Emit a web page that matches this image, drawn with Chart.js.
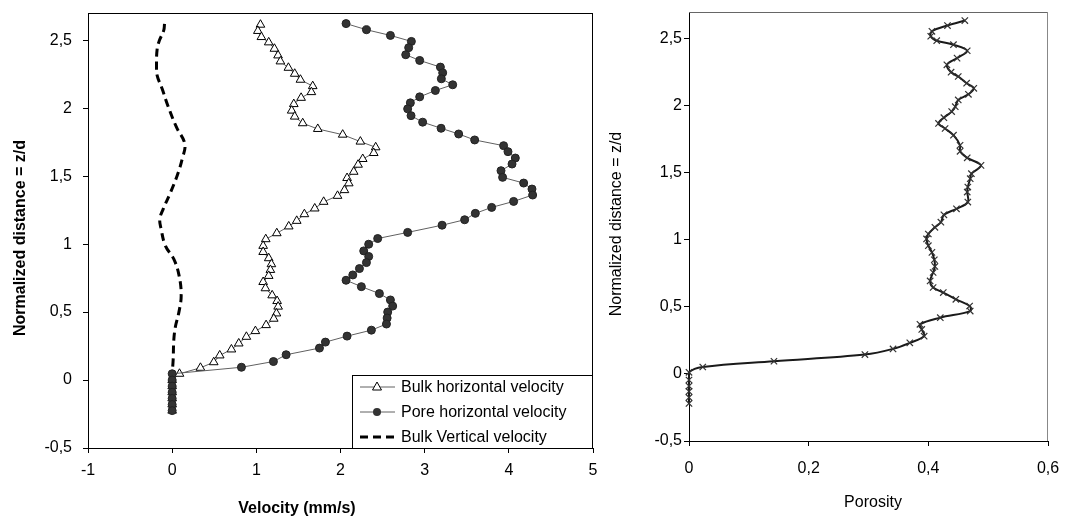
<!DOCTYPE html>
<html>
<head>
<title>Velocity and porosity profiles</title>
<script src="https://cdn.jsdelivr.net/npm/chart.js"></script>
<style>
  body { margin: 0; background: #fff; }
  #left { position: absolute; left: 0; top: 0; width: 600px; height: 521px; }
  #right { position: absolute; left: 600px; top: 0; width: 465px; height: 521px; }
</style>
</head>
<body>
<div id="left"><canvas id="velChart"></canvas></div>
<div id="right"><canvas id="porChart"></canvas></div>
<script>
// values (z/d from top to bottom)
var bulkZ = [2.614,2.568,2.523,2.484,2.437,2.388,2.344,2.297,2.253,2.209,2.162,2.118,2.076,2.03,1.982,1.938,1.889,1.847,1.805,1.754,1.712,1.67,1.626,1.584,1.532,1.486,1.447,1.397,1.355,1.311,1.262,1.22,1.171,1.13,1.08,1.036,0.987,0.942,0.896,0.852,0.81,0.766,0.721,0.675,0.623,0.581,0.54,0.49,0.451,0.404,0.36,0.318,0.269,0.225,0.181,0.131,0.09,0.046,0,-0.045,-0.09,-0.135,-0.18,-0.225];
var bulkV = [1.049,1.018,1.06,1.147,1.215,1.258,1.286,1.381,1.456,1.524,1.67,1.654,1.532,1.445,1.42,1.456,1.551,1.73,2.026,2.236,2.418,2.395,2.264,2.209,2.157,2.078,2.098,2.047,1.965,1.8,1.694,1.571,1.48,1.385,1.243,1.112,1.081,1.081,1.147,1.179,1.167,1.147,1.081,1.108,1.188,1.247,1.259,1.239,1.207,1.116,0.989,0.882,0.791,0.704,0.565,0.494,0.336,0.087,0,0,0,0,0,0];

var poreZ = [2.622,2.577,2.535,2.491,2.445,2.393,2.351,2.302,2.26,2.216,2.172,2.13,2.083,2.039,1.995,1.945,1.897,1.852,1.81,1.766,1.724,1.68,1.633,1.589,1.54,1.491,1.449,1.405,1.361,1.314,1.27,1.226,1.179,1.139,1.086,1.041,0.999,0.95,0.909,0.864,0.82,0.773,0.734,0.687,0.636,0.589,0.544,0.5,0.456,0.412,0.367,0.323,0.279,0.235,0.186,0.136,0.094,0.046,0,-0.045,-0.09,-0.135,-0.18,-0.225];
var poreV = [2.066,2.308,2.593,2.842,2.81,2.775,2.941,3.187,3.214,3.198,3.333,3.127,2.941,2.83,2.798,2.838,2.976,3.195,3.404,3.594,3.938,3.99,4.077,4.038,3.907,3.926,4.176,4.275,4.283,4.057,3.796,3.602,3.475,3.207,2.798,2.442,2.335,2.276,2.335,2.308,2.225,2.146,2.066,2.248,2.462,2.593,2.62,2.561,2.554,2.546,2.367,2.078,1.821,1.75,1.354,1.203,0.823,0,0,0,0,0,0,0];

var vertZ = [2.62,2.572,2.499,2.437,2.314,2.24,2.142,2.019,1.86,1.737,1.626,1.503,1.38,1.257,1.184,1.11,0.987,0.889,0.766,0.618,0.496,0.397,0.299,0.151,0.028,-0.225];
var vertV = [-0.091,-0.1,-0.151,-0.178,-0.186,-0.178,-0.119,-0.052,0.051,0.15,0.119,0.059,-0.02,-0.107,-0.147,-0.131,-0.08,0.02,0.083,0.107,0.079,0.04,0.02,0.012,0,0];

var porZ = [2.636,2.599,2.556,2.519,2.486,2.456,2.411,2.356,2.306,2.251,2.219,2.169,2.131,2.086,2.044,1.994,1.957,1.912,1.869,1.831,1.781,1.706,1.661,1.612,1.556,1.494,1.457,1.394,1.357,1.282,1.232,1.187,1.132,1.094,1.044,1.007,0.957,0.907,0.852,0.802,0.757,0.694,0.645,0.607,0.557,0.507,0.469,0.42,0.37,0.332,0.282,0.232,0.187,0.145,0.095,0.052,0.012,-0.045,-0.09,-0.13,-0.175,-0.22];
var porP = [0.461,0.432,0.406,0.404,0.414,0.442,0.465,0.448,0.431,0.438,0.45,0.464,0.476,0.467,0.45,0.445,0.439,0.426,0.417,0.428,0.442,0.453,0.453,0.465,0.488,0.472,0.47,0.466,0.465,0.466,0.447,0.426,0.421,0.411,0.4,0.397,0.4,0.406,0.41,0.411,0.408,0.403,0.408,0.425,0.446,0.469,0.47,0.42,0.386,0.389,0.393,0.369,0.341,0.294,0.142,0.023,0,0,0,0,0,0];

var velTicks = { min: -1, max: 5, step: 1 };
var zTicks = { min: -0.5, max: 2.7, step: 0.5 };
var porTicks = { min: 0, max: 0.6, step: 0.2 };

Chart.defaults.font.family = "'Liberation Sans', Arial, sans-serif";
Chart.defaults.color = '#000';

function pts(xs, ys) {
    return xs.map(function (x, i) { return { x: x, y: ys[i] }; });
}
function fmt(v) {
    return (Math.round(v * 10) / 10).toString().replace('.', ',');
}

// frame on top/right, axis titles
var frame = {
    id: 'frame',
    afterDraw: function (chart, args, o) {
        var ctx = chart.ctx, a = chart.chartArea;
        ctx.save();
        ctx.lineWidth = 1;
        ctx.strokeStyle = o.top;
        ctx.beginPath();
        ctx.moveTo(a.left, Math.round(a.top) + 0.5);
        ctx.lineTo(a.right, Math.round(a.top) + 0.5);
        ctx.stroke();
        ctx.strokeStyle = o.right;
        ctx.beginPath();
        ctx.moveTo(Math.round(a.right) - 0.5, a.top);
        ctx.lineTo(Math.round(a.right) - 0.5, a.bottom);
        ctx.stroke();
        ctx.fillStyle = '#000';
        ctx.textAlign = 'center';
        ctx.textBaseline = 'middle';
        (o.titles || []).forEach(function (t) {
            ctx.save();
            ctx.font = (t.bold ? 'bold ' : '') + '16px ' + Chart.defaults.font.family;
            ctx.translate(t.x, t.y);
            if (t.rot) ctx.rotate(-Math.PI / 2);
            ctx.fillText(t.text, 0, 0);
            ctx.restore();
        });
        ctx.restore();
    }
};

// legend box inside the plot, bottom right
var boxLegend = {
    id: 'boxLegend',
    afterDraw: function (chart, args, o) {
        if (!o.show) return;
        var ctx = chart.ctx;
        ctx.save();
        ctx.fillStyle = '#fff';
        ctx.fillRect(o.left, o.top, o.right - o.left, o.bottom - o.top);
        ctx.strokeStyle = '#000';
        ctx.lineWidth = 1;
        ctx.strokeRect(o.left + 0.5, o.top + 0.5, o.right - o.left - 1, o.bottom - o.top - 1);
        chart.data.datasets.forEach(function (ds, i) {
            var y = o.rowY[i];
            ctx.save();
            ctx.strokeStyle = ds.borderColor;
            ctx.lineWidth = ds.borderWidth;
            ctx.setLineDash(ds.borderDash || []);
            ctx.beginPath();
            ctx.moveTo(o.left + 8, y);
            ctx.lineTo(o.left + 43, y);
            ctx.stroke();
            ctx.setLineDash([]);
            var cx = o.left + 25;
            if (ds.pointStyle === 'triangle') {
                ctx.fillStyle = '#fff';
                ctx.strokeStyle = '#000';
                ctx.lineWidth = 1;
                ctx.beginPath();
                ctx.moveTo(cx, y - 5);
                ctx.lineTo(cx + 4.5, y + 3);
                ctx.lineTo(cx - 4.5, y + 3);
                ctx.closePath();
                ctx.fill();
                ctx.stroke();
            } else if (ds.pointStyle === 'circle' && ds.pointRadius > 0) {
                ctx.fillStyle = ds.pointBackgroundColor;
                ctx.beginPath();
                ctx.arc(cx, y, 4, 0, Math.PI * 2);
                ctx.fill();
            }
            ctx.restore();
            ctx.fillStyle = '#000';
            ctx.font = '16px ' + Chart.defaults.font.family;
            ctx.textAlign = 'left';
            ctx.textBaseline = 'middle';
            ctx.fillText(ds.label, o.left + 49, y + 1);
        });
        ctx.restore();
    }
};

function axis(t, opts) {
    return {
        type: 'linear',
        min: t.min,
        max: t.max,
        ticks: {
            stepSize: t.step,
            includeBounds: false,
            padding: opts.pad,
            callback: fmt,
            color: '#000',
            font: { size: 16 },
            maxRotation: 0,
            autoSkip: false
        },
        grid: { drawOnChartArea: false, tickLength: 5, color: '#000' },
        border: { color: '#000', width: 1 },
        afterFit: function (s) {
            opts.fit(s);
            // keep the plot box where the layout padding puts it
            s.paddingTop = 0; s.paddingBottom = 0;
            s.paddingLeft = 0; s.paddingRight = 0;
        }
    };
}

new Chart(document.getElementById('velChart'), {
    type: 'scatter',
    data: {
        datasets: [{
            label: 'Bulk horizontal velocity',
            data: pts(bulkV, bulkZ),
            order: 1,
            showLine: true,
            borderColor: '#606060',
            borderWidth: 1,
            pointStyle: 'triangle',
            pointRadius: 5,
            pointBackgroundColor: '#fff',
            pointBorderColor: '#000',
            pointBorderWidth: 1
        }, {
            label: 'Pore horizontal velocity',
            data: pts(poreV, poreZ),
            order: 0,
            showLine: true,
            borderColor: '#606060',
            borderWidth: 1,
            pointStyle: 'circle',
            pointRadius: 4,
            pointBackgroundColor: '#333',
            pointBorderColor: '#222',
            pointBorderWidth: 1
        }, {
            label: 'Bulk Vertical velocity',
            data: pts(vertV, vertZ),
            order: 2,
            showLine: true,
            borderColor: '#000',
            borderWidth: 3,
            borderDash: [8, 5],
            tension: 0.4,
            pointStyle: 'circle',
            pointRadius: 0
        }]
    },
    options: {
        responsive: true,
        maintainAspectRatio: false,
        animation: false,
        layout: { padding: { left: 0, top: 13, right: 7, bottom: 0 } },
        scales: {
            x: axis(velTicks, { pad: 8, fit: function (s) { s.height = 73; } }),
            y: axis(zTicks, { pad: 11, fit: function (s) { s.width = 88; } })
        },
        plugins: {
            legend: { display: false },
            tooltip: { enabled: false },
            frame: {
                top: '#000', right: '#000',
                titles: [
                    { text: 'Velocity (mm/s)', x: 297, y: 509, bold: true },
                    { text: 'Normalized distance = z/d', x: 21, y: 238, bold: true, rot: true }
                ]
            },
            boxLegend: { show: true, left: 352, top: 375, right: 593, bottom: 449, rowY: [387, 412, 437] }
        }
    },
    plugins: [frame, boxLegend]
});

new Chart(document.getElementById('porChart'), {
    type: 'scatter',
    data: {
        datasets: [{
            label: 'Porosity',
            data: pts(porP, porZ),
            clip: false,
            showLine: true,
            borderColor: '#1a1a1a',
            borderWidth: 2,
            tension: 0.35,
            pointStyle: 'crossRot',
            pointRadius: 4.5,
            pointBorderColor: '#333',
            pointBorderWidth: 1.2
        }]
    },
    options: {
        responsive: true,
        maintainAspectRatio: false,
        animation: false,
        layout: { padding: { left: 0, top: 12, right: 17, bottom: 0 } },
        scales: {
            x: axis(porTicks, { pad: 13, fit: function (s) { s.height = 80; } }),
            y: axis(zTicks, { pad: 2, fit: function (s) { s.width = 89; } })
        },
        plugins: {
            legend: { display: false },
            tooltip: { enabled: false },
            frame: {
                top: '#666', right: '#888',
                titles: [
                    { text: 'Porosity', x: 273, y: 503 },
                    { text: 'Normalized distance = z/d', x: 17, y: 224, rot: true }
                ]
            },
            boxLegend: { show: false }
        }
    },
    plugins: [frame, boxLegend]
});
</script>
</body>
</html>
